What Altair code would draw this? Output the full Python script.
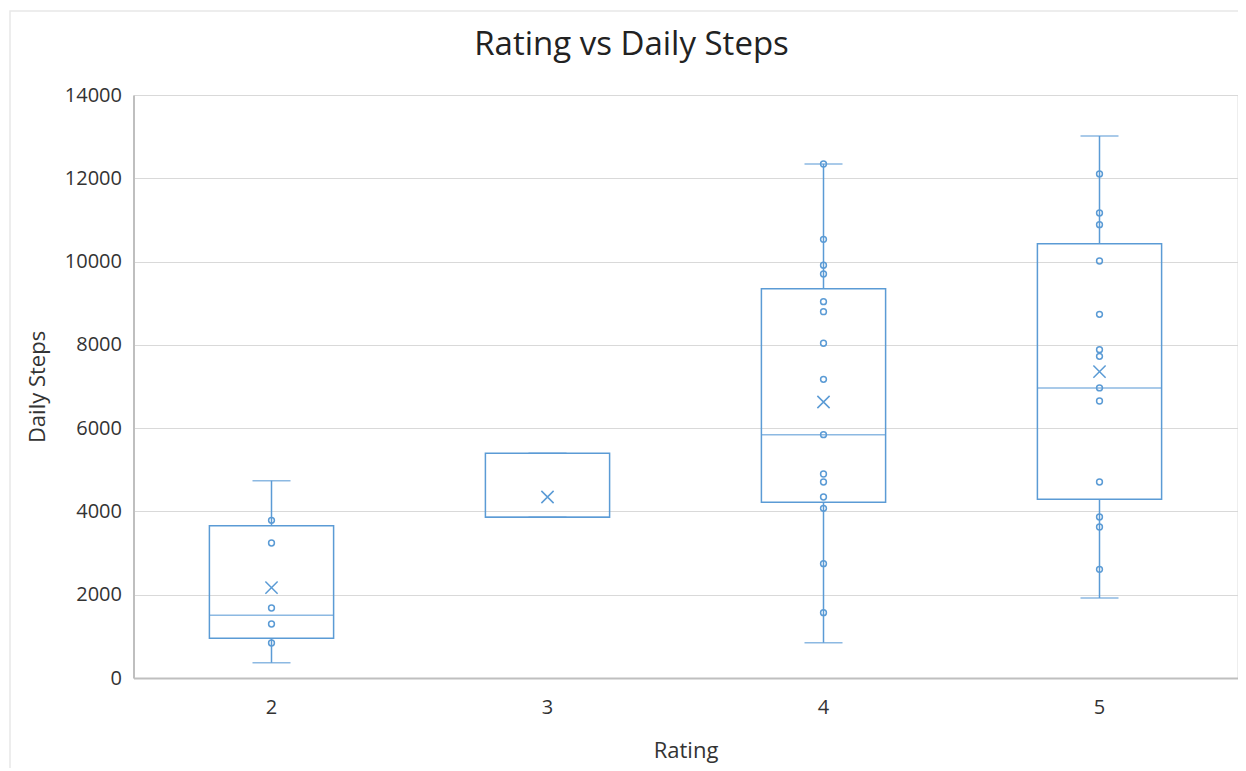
import altair as alt
import pandas as pd

# ---- data ----
ratings = ["2", "3", "4", "5"]
whisker_low = [367, 3859, 848, 1921]
q1 = [953, 3859, 4219, 4291]
median = [1505, 3859, 5843, 6965]
q3 = [3658, 5396, 9350, 10430]
whisker_high = [4738, 5396, 12344, 13016]
mean = [2169, 4347, 6628, 7356]

points_r2 = [3787, 3242, 1681, 1297, 841]
points_r4 = [12344, 10535, 9911, 9702, 9037, 8797, 8038, 7173, 5843, 4899, 4707, 4347, 4075, 2745, 1568]
points_r5 = [12104, 11167, 10887, 10014, 8734, 7884, 7725, 6965, 6652, 4707, 3866, 3626, 2610]

y_ticks = [0, 2000, 4000, 6000, 8000, 10000, 12000, 14000]

BLUE = "#5B9BD5"
FONT = "Open Sans"
W, H = 1104, 583

summary = pd.DataFrame({
    "Rating": ratings, "low": whisker_low, "q1": q1, "median": median,
    "q3": q3, "high": whisker_high, "mean": mean,
})
pts = pd.DataFrame({
    "Rating": ["2"] * len(points_r2) + ["4"] * len(points_r4) + ["5"] * len(points_r5),
    "steps": points_r2 + points_r4 + points_r5,
})

xscale = alt.Scale(domain=ratings, paddingInner=0, paddingOuter=0)
yscale = alt.Scale(domain=[0, 14000], nice=False)

x_enc = alt.X("Rating:N", scale=xscale, sort=ratings,
              axis=alt.Axis(title="Rating", labelAngle=0, ticks=False, grid=False,
                            domainColor="#bfbfbf", domainWidth=2,
                            labelFontSize=20, labelPadding=19, labelColor="#333333",
                            labelFont=FONT, titleFont=FONT, titleFontSize=22,
                            titleFontWeight="normal", titleColor="#333333",
                            titlePadding=23))
y_axis = alt.Axis(title="Daily Steps", values=y_ticks, format="d", ticks=False, grid=True,
                  gridColor="#d9d9d9", gridWidth=1,
                  domainColor="#bfbfbf", domainWidth=2,
                  labelFontSize=20, labelPadding=12, labelColor="#333333",
                  labelFont=FONT, titleFont=FONT, titleFontSize=22,
                  titleFontWeight="normal", titleColor="#333333",
                  titlePadding=15)

base = alt.Chart(summary)
xc = alt.X("Rating:N", scale=xscale, sort=ratings)

box = base.mark_bar(width={"band": 0.45}, fill=None, fillOpacity=0,
                    stroke=BLUE, strokeWidth=1.5).encode(
    x=x_enc,
    y=alt.Y("q1:Q", scale=yscale, axis=y_axis),
    y2="q3:Q",
)
whisk_lo = base.mark_rule(color=BLUE, strokeWidth=1.5).encode(
    x=xc, y=alt.Y("low:Q", scale=yscale), y2="q1:Q")
whisk_hi = base.mark_rule(color=BLUE, strokeWidth=1.5).encode(
    x=xc, y=alt.Y("q3:Q", scale=yscale), y2="high:Q")
cap_lo = base.mark_tick(color=BLUE, size=38, thickness=1.5, orient="horizontal").encode(
    x=xc, y=alt.Y("low:Q", scale=yscale))
cap_hi = base.mark_tick(color=BLUE, size=38, thickness=1.5, orient="horizontal").encode(
    x=xc, y=alt.Y("high:Q", scale=yscale))
med = base.mark_tick(color=BLUE, size=125, thickness=1.5, orient="horizontal").encode(
    x=xc, y=alt.Y("median:Q", scale=yscale))
mean_mark = base.mark_point(shape="M-1,-1L1,1M-1,1L1,-1", size=150, stroke=BLUE,
                            strokeWidth=1.5, filled=False, opacity=1).encode(
    x=xc, y=alt.Y("mean:Q", scale=yscale))
points = alt.Chart(pts).mark_point(shape="circle", size=34, stroke=BLUE, strokeWidth=1.5,
                                   filled=False, opacity=1).encode(
    x=xc, y=alt.Y("steps:Q", scale=yscale))

frame = alt.Chart(alt.Data(values=[{"a": 1}])).mark_rect(
    fill=None, fillOpacity=0, stroke="#e8e8e8", strokeWidth=1.5).encode(
    x=alt.value(-123.5), x2=alt.value(W + 20), y=alt.value(-84), y2=alt.value(H + 120))

chart = alt.layer(frame, box, whisk_lo, whisk_hi, cap_lo, cap_hi, med, mean_mark, points).properties(
    width=W, height=H,
    title=alt.Title("Rating vs Daily Steps", font=FONT, fontSize=33, fontWeight="normal",
                    color="#222222", anchor="middle", baseline="alphabetic",
                    dx=-54, dy=78, offset=0),
    autosize=alt.AutoSizeParams(type="none"),
    padding={"left": 125.5, "top": 87, "right": 0, "bottom": 90},
).configure_view(stroke=None).configure(background="white")

chart.save("out.html", embed_options={"renderer": "svg", "actions": False})
